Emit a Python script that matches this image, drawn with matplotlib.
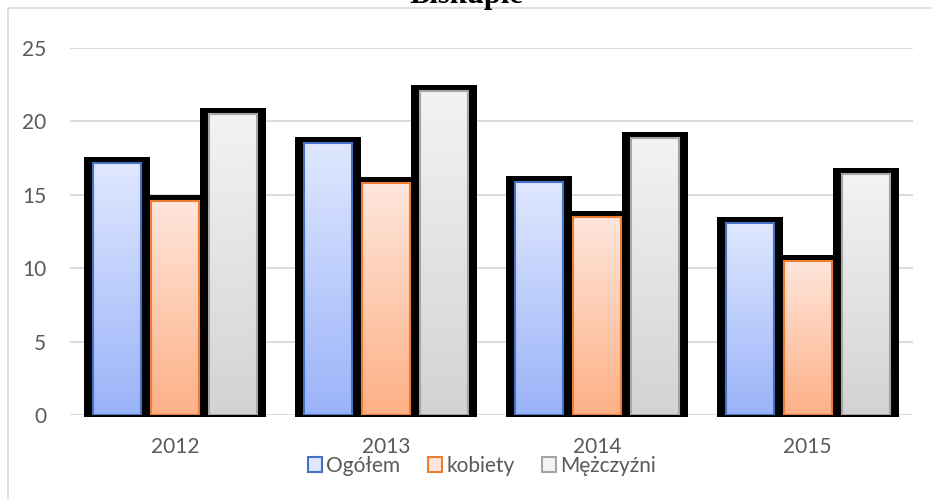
import numpy as np
import matplotlib.pyplot as plt
from matplotlib.colors import LinearSegmentedColormap
from matplotlib.patches import Patch, Rectangle

lata = ['2012', '2013', '2014', '2015']
ogolem = [17.2, 18.5, 15.9, 13.1]
kobiety = [14.6, 15.8, 13.5, 10.5]
mezczyzni = [20.5, 22.1, 18.9, 16.4]
serie = ['Ogółem', 'kobiety', 'Mężczyźni']

# (gora, dol, krawedz)
kolory = [('#e0e8ff', '#9ab3f9', '#4472c4'),
          ('#ffe6dc', '#fdb086', '#ed7d31'),
          ('#f3f3f3', '#d3d3d3', '#a5a5a5')]

plt.rcParams['font.family'] = ['Lato', 'DejaVu Sans']

fig = plt.figure(figsize=(9.31, 4.99), dpi=100)
ax = fig.add_axes([70/931, 1-415/499, 843/931, 367/499])

x = np.arange(len(lata))
w = 0.228
krok = 0.275
px = 14.68  # pikseli na jednostke

grad = np.linspace(0, 1, 256).reshape(-1, 1)
for i, vals in enumerate([ogolem, kobiety, mezczyzni]):
    top, bot, edge = kolory[i]
    cmap = LinearSegmentedColormap.from_list('g%d' % i, [bot, top])
    for xi, v in zip(x, vals):
        xc = xi + (i - 1) * krok
        # czarny cien
        sh = Rectangle((xc - w/2 - 9/210.75, -2/px), w + 18/210.75, v + 8/px,
                       facecolor='black', edgecolor='none', zorder=2, clip_on=False)
        ax.add_patch(sh)
        r = Rectangle((xc - w/2, 0), w, v, facecolor='none', edgecolor=edge,
                      lw=1.5, zorder=4)
        ax.add_patch(r)
        im = ax.imshow(grad, cmap=cmap, origin='lower', aspect='auto',
                       extent=(xc - w/2, xc + w/2, 0, v), zorder=3)
        im.set_clip_path(r)

ax.set_xlim(-0.5, 3.5)
ax.set_ylim(0, 25)
ax.set_xticks(x)
ax.set_xticklabels(lata)
ax.set_yticks(range(0, 26, 5))
ax.tick_params(length=0, colors='#595959', labelsize=15)
ax.tick_params(axis='y', pad=17)
ax.tick_params(axis='x', pad=16)
ax.grid(axis='y', color='#d9d9d9', lw=1.3)
ax.set_axisbelow(True)
for s in ax.spines.values():
    s.set_visible(False)

uchwyty = [Patch(facecolor=kolory[i][0], edgecolor=kolory[i][2], lw=1.5)
           for i in range(3)]
fig.legend(uchwyty, serie, loc='center', bbox_to_anchor=(482/931, 1-466/499),
           ncol=3, frameon=False, fontsize=15, handlelength=0.7, handleheight=0.7,
           handletextpad=0.2, columnspacing=1.3, labelcolor='#595959',
           borderpad=0.1)

fig.patches.append(Rectangle((8/931, -0.1), 1.0, 1 - 8/499 + 0.1,
                             transform=fig.transFigure, facecolor='none',
                             edgecolor='#d9d9d9', lw=1.2))
fig.text(466/931, 1 - 2.5/499, 'Biskupie', ha='center', va='baseline',
         fontsize=22, fontweight='bold', family='Liberation Serif')

fig.savefig('out.png', dpi=100)
